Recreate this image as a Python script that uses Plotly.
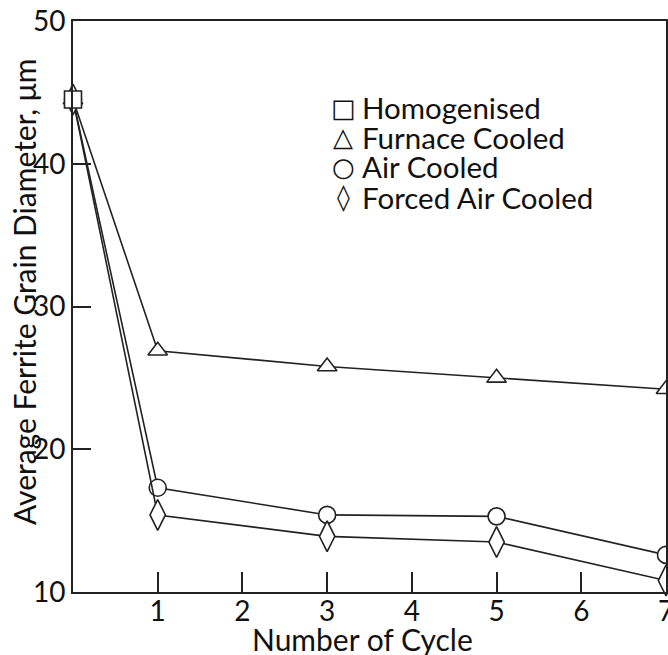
import plotly.graph_objects as go

cycles = [0, 1, 3, 5, 7]
homogenised_x = [0]
homogenised_y = [44.5]
furnace_cooled = [44.5, 26.9, 25.8, 25.0, 24.2]
air_cooled = [44.5, 17.3, 15.4, 15.3, 12.6]
forced_air_cooled = [44.5, 15.4, 13.9, 13.5, 10.8]

x_ticks = [1, 2, 3, 4, 5, 6, 7]
y_ticks = [10, 20, 30, 40, 50]

legend_labels = ["Homogenised", "Furnace Cooled", "Air Cooled", "Forced Air Cooled"]
legend_glyphs = ["□", "△", "○", "◊"]

FONT = "Lato"
W, H = 668, 655
ML, MR, MT, MB = 73, 2, 21, 63
PW, PH = W - ML - MR, H - MT - MB


def px(xp):
    return (xp - ML) / PW


def py(yp):
    return (H - MB - yp) / PH


fig = go.Figure()

series = [
    ("Furnace Cooled", furnace_cooled, "triangle-up", 17),
    ("Air Cooled", air_cooled, "circle", 17),
    ("Forced Air Cooled", forced_air_cooled, "diamond-tall", 22),
]
for name, ys, sym, sz in series:
    fig.add_trace(go.Scatter(
        x=cycles, y=ys, mode="lines+markers", name=name, showlegend=False,
        line=dict(color="#222", width=1.6),
        marker=dict(symbol=sym, size=sz, color="white", line=dict(color="#222", width=1.6)),
        cliponaxis=False,
    ))
fig.add_trace(go.Scatter(
    x=homogenised_x, y=homogenised_y, mode="markers", name="Homogenised", showlegend=False,
    marker=dict(symbol="square", size=17, color="white", line=dict(color="#222", width=1.6)),
    cliponaxis=False,
))

row_y = [108, 137, 167, 197]
for lab, gl, ry in zip(legend_labels, legend_glyphs, row_y):
    fig.add_annotation(xref="paper", yref="paper", x=px(343), y=py(ry), text=gl,
                       showarrow=False, xanchor="center", yanchor="middle",
                       font=dict(family="DejaVu Sans", size=26, color="#111"))
    fig.add_annotation(xref="paper", yref="paper", x=px(360), y=py(ry), text=lab,
                       showarrow=False, xanchor="left", yanchor="middle",
                       font=dict(family=FONT, size=29.5, color="#111"))

fig.add_annotation(xref="paper", yref="paper", x=px(24), y=py(292),
                   text="Average Ferrite Grain Diameter, μm", textangle=-90,
                   showarrow=False, xanchor="center", yanchor="middle",
                   font=dict(family=FONT, size=30, color="#111"))
fig.add_annotation(xref="paper", yref="paper", x=px(362), y=py(639),
                   text="Number of Cycle",
                   showarrow=False, xanchor="center", yanchor="middle",
                   font=dict(family=FONT, size=30, color="#111"))

fig.update_layout(
    width=W, height=H,
    margin=dict(l=ML, r=MR, t=MT, b=MB, autoexpand=False),
    paper_bgcolor="white", plot_bgcolor="white",
    font=dict(family=FONT, color="#111", size=28),
    showlegend=False,
)
fig.update_xaxes(
    range=[0, 7], tickvals=x_ticks, ticks="inside", ticklen=20, tickwidth=1.6,
    tickcolor="#222", showline=True, linecolor="#222", linewidth=1.6, mirror=True,
    showgrid=False, zeroline=False, tickfont=dict(size=28), automargin=False,
    ticklabeloverflow="allow", ticklabelstandoff=-6,
)
fig.update_yaxes(
    range=[10, 50], tickvals=y_ticks, ticks="inside", ticklen=18, tickwidth=1.6,
    tickcolor="#222", showline=True, linecolor="#222", linewidth=1.6, mirror=True,
    showgrid=False, zeroline=False, tickfont=dict(size=28), automargin=False,
    ticklabeloverflow="allow",
)

fig.write_html("out.html", config={"displayModeBar": False},
               post_script="document.body.style.margin='0';document.body.style.overflow='hidden';")
